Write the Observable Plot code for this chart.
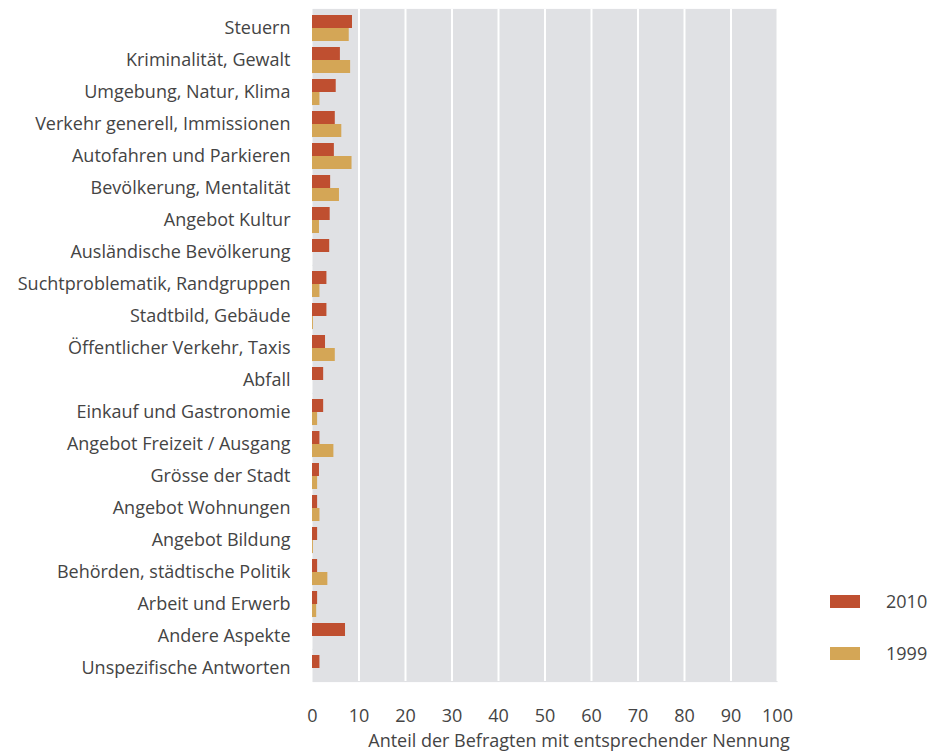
<!DOCTYPE html>
<html>
<head>
<meta charset="utf-8">
<script src="https://cdn.jsdelivr.net/npm/d3@7"></script>
<script src="https://cdn.jsdelivr.net/npm/@observablehq/plot@0.6"></script>
<style>
  body { margin: 0; background: #fff; }
  #wrap { position: relative; width: 944px; height: 751px; font-family: "Open Sans", sans-serif; }
  #legend { position: absolute; left: 830px; top: 588px; }
  .item { display: flex; align-items: center; height: 26px; margin-bottom: 26px; }
  .sw { width: 30px; height: 13px; margin-right: 26px; }
  .lab { font-size: 18px; color: #444; }
</style>
</head>
<body>
<div id="wrap"></div>
<script>
const categories = [
  "Steuern",
  "Kriminalität, Gewalt",
  "Umgebung, Natur, Klima",
  "Verkehr generell, Immissionen",
  "Autofahren und Parkieren",
  "Bevölkerung, Mentalität",
  "Angebot Kultur",
  "Ausländische Bevölkerung",
  "Suchtproblematik, Randgruppen",
  "Stadtbild, Gebäude",
  "Öffentlicher Verkehr, Taxis",
  "Abfall",
  "Einkauf und Gastronomie",
  "Angebot Freizeit / Ausgang",
  "Grösse der Stadt",
  "Angebot Wohnungen",
  "Angebot Bildung",
  "Behörden, städtische Politik",
  "Arbeit und Erwerb",
  "Andere Aspekte",
  "Unspezifische Antworten"
];
const values2010 = [8.6, 6.0, 5.1, 4.9, 4.7, 3.9, 3.8, 3.7, 3.1, 3.1, 2.8, 2.4, 2.4, 1.6, 1.5, 1.1, 1.1, 1.1, 1.1, 7.1, 1.6];
const values1999 = [7.9, 8.2, 1.6, 6.3, 8.5, 5.8, 1.5, null, 1.6, 0.2, 4.9, null, 1.1, 4.6, 1.1, 1.6, 0.2, 3.3, 0.9, null, null];
const years = ["2010", "1999"];
const colors = ["#bf4f30", "#d4a656"];
const xTicks = [0, 10, 20, 30, 40, 50, 60, 70, 80, 90, 100];
const xLabel = "Anteil der Befragten mit entsprechender Nennung";

const data = categories.flatMap((c, i) => [
  {cat: c, year: years[0], value: values2010[i]},
  {cat: c, year: years[1], value: values1999[i]}
]).filter(d => d.value != null);

const lastCat = categories[categories.length - 1];

const chart = Plot.plot({
  width: 944,
  height: 751,
  marginTop: 4,
  marginBottom: 65,
  marginLeft: 312,
  marginRight: 167,
  style: {fontFamily: "Open Sans", fontSize: "18px", color: "#444", background: "#fff"},
  x: {domain: [0, 100]},
  fy: {domain: categories, padding: 0, label: null},
  y: {domain: years, paddingInner: 0, paddingOuter: 0.23, align: 1, axis: null},
  color: {domain: years, range: colors},
  marks: [
    Plot.frame({fill: "#e0e1e4", stroke: null, insetTop: -0.6, insetBottom: -0.6}),
    Plot.gridX(xTicks.slice(1), {stroke: "#fff", strokeOpacity: 1, strokeWidth: 2}),
    Plot.barX(data, {fy: "cat", y: "year", x: "value", fill: "year"}),
    Plot.axisFy({anchor: "left", tickSize: 0, tickPadding: 22, label: null, fontSize: 18, dy: 3}),
    Plot.axisX({ticks: xTicks, tickSize: 0, tickPadding: 28, label: null, fontSize: 18}),
    Plot.text([xLabel], {fy: [lastCat], text: d => d, frameAnchor: "bottom", lineAnchor: "middle", dy: 60, dx: 34, fontSize: 18, fill: "#444"})
  ]
});
const wrap = document.getElementById("wrap");
wrap.appendChild(chart);

const legend = document.createElement("div");
legend.id = "legend";
years.forEach((y, i) => {
  const item = document.createElement("div");
  item.className = "item";
  const sw = document.createElement("div");
  sw.className = "sw";
  sw.style.background = colors[i];
  const lab = document.createElement("span");
  lab.className = "lab";
  lab.textContent = y;
  item.appendChild(sw);
  item.appendChild(lab);
  legend.appendChild(item);
});
wrap.appendChild(legend);
</script>
</body>
</html>
